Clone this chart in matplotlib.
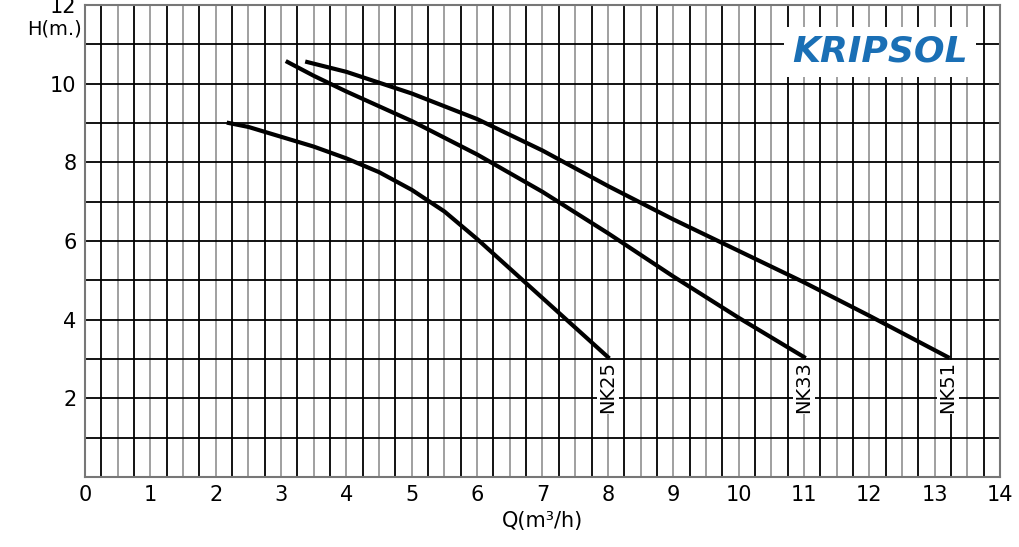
import matplotlib
matplotlib.use("Agg")
import matplotlib.pyplot as plt
import numpy as np

nk25_q = [2.2, 2.5, 3.0, 3.5, 4.0, 4.5, 5.0, 5.5, 6.0, 6.5, 7.0, 7.5, 8.0]
nk25_h = [9.0, 8.9, 8.65, 8.4, 8.1, 7.75, 7.3, 6.75, 6.05, 5.3, 4.55, 3.8, 3.05]
nk33_q = [3.1, 3.5, 4.0, 5.0, 6.0, 7.0, 8.0, 9.0, 10.0, 11.0]
nk33_h = [10.55, 10.2, 9.8, 9.05, 8.2, 7.25, 6.2, 5.1, 4.05, 3.05]
nk51_q = [3.4, 4.0, 5.0, 6.0, 7.0, 8.0, 9.0, 10.0, 11.0, 12.0, 13.2]
nk51_h = [10.55, 10.3, 9.75, 9.1, 8.3, 7.4, 6.55, 5.75, 4.95, 4.1, 3.05]
labels = ["NK25", "NK33", "NK51"]

fig = plt.figure(figsize=(10.2, 5.47), dpi=100)
ax = fig.add_axes([85/1020, 1-477/547, 915/1020, 472/547])
ax.set_xlim(0, 14)
ax.set_ylim(0, 12)
for i, xv in enumerate(np.arange(0.25, 14, 0.25)):
    ax.axvline(xv, color="black" if i % 2 == 0 else "#999999", lw=1.3, zorder=1)
for yv in range(1, 12):
    ax.axhline(yv, color="black", lw=1.3, zorder=1)
for q, h, lab in [(nk25_q, nk25_h, labels[0]), (nk33_q, nk33_h, labels[1]), (nk51_q, nk51_h, labels[2])]:
    ax.plot(q, h, color="black", lw=3, zorder=3, solid_joinstyle="round")
    ax.text(q[-1], h[-1]-0.1, lab, rotation=90, ha="center", va="top", fontsize=14,
            zorder=4, bbox=dict(facecolor="white", edgecolor="none", pad=1))
ax.set_xticks(range(0, 15))
ax.set_yticks([2, 4, 6, 8, 10, 12])
ax.tick_params(length=0, labelsize=15, pad=6)
for s in ax.spines.values():
    s.set_color("#777777"); s.set_linewidth(1.5)
ax.text(-0.05, 11.4, "H(m.)", ha="right", va="center", fontsize=14)
ax.set_xlabel("Q(m³/h)", fontsize=15, labelpad=4)
fig.text(0.863, 0.905, "KRIPSOL", color="#1a6fb5", fontsize=26, fontweight="bold",
         fontstyle="italic", ha="center", va="center",
         bbox=dict(facecolor="white", edgecolor="none", pad=6))
fig.savefig("out.png", dpi=100)
